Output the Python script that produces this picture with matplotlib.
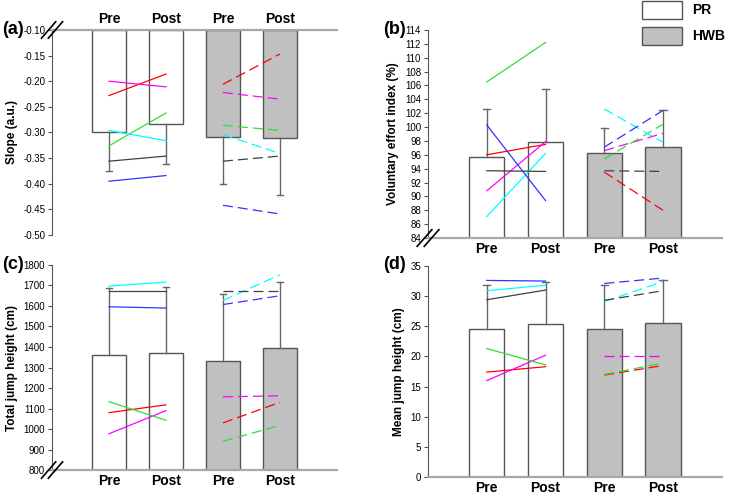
import matplotlib
matplotlib.use("Agg")
import matplotlib.pyplot as plt
from matplotlib.patches import Rectangle
import numpy as np

plt.rcParams['font.family'] = ['Liberation Sans', 'DejaVu Sans']

categories = ['Pre', 'Post', 'Pre', 'Post']
line_colors = ['red', 'magenta', '#33dd33', 'cyan', '#3333ff', '#404040']

# (a) slope
slope_mean = [-0.300, -0.284, -0.308, -0.310]
slope_err = [0.075, 0.078, 0.093, 0.111]
slope_pr = {'red': (-0.228, -0.186), 'magenta': (-0.200, -0.211), '#33dd33': (-0.326, -0.262),
            'cyan': (-0.296, -0.316), '#3333ff': (-0.395, -0.384), '#404040': (-0.356, -0.346)}
slope_hwb = {'red': (-0.206, -0.147), 'magenta': (-0.222, -0.235), '#33dd33': (-0.286, -0.296),
             'cyan': (-0.304, -0.341), '#3333ff': (-0.442, -0.459), '#404040': (-0.356, -0.346)}

# (b) voluntary effort index
vei_mean = [95.7, 97.8, 96.2, 97.1]
vei_err = [6.9, 7.7, 3.7, 5.3]
vei_pr = {'red': (96.0, 97.5), 'magenta': (90.8, 97.9), '#33dd33': (106.5, 112.2),
          'cyan': (87.1, 96.2), '#3333ff': (100.3, 89.4), '#404040': (93.7, 93.6)}
vei_hwb = {'red': (93.5, 88.0), 'magenta': (96.6, 99.1), '#33dd33': (95.4, 100.4),
           'cyan': (102.6, 97.8), '#3333ff': (97.1, 102.4), '#404040': (93.7, 93.6)}

# (c) total jump height
tjh_mean = [1360, 1372, 1333, 1396]
tjh_err = [330, 320, 325, 321]
tjh_pr = {'red': (1080, 1118), 'magenta': (977, 1090), '#33dd33': (1133, 1043),
          'cyan': (1697, 1717), '#3333ff': (1596, 1590), '#404040': (1672, 1672)}
tjh_hwb = {'red': (1030, 1130), 'magenta': (1157, 1162), '#33dd33': (940, 1018),
           'cyan': (1627, 1752), '#3333ff': (1607, 1650), '#404040': (1672, 1672)}

# (d) mean jump height
mjh_mean = [24.6, 25.4, 24.5, 25.6]
mjh_err = [7.2, 7.0, 7.4, 7.1]
mjh_pr = {'red': (17.4, 18.3), 'magenta': (16.0, 20.2), '#33dd33': (21.3, 18.6),
          'cyan': (30.9, 31.8), '#3333ff': (32.6, 32.5), '#404040': (29.4, 31.0)}
mjh_hwb = {'red': (16.9, 18.5), 'magenta': (20.0, 20.0), '#33dd33': (17.0, 18.9),
           'cyan': (29.1, 32.4), '#3333ff': (32.1, 33.0), '#404040': (29.3, 30.9)}

x = np.array([1, 2, 3, 4])
bar_fill = ['white', 'white', '#c0c0c0', '#c0c0c0']
EDGE = '#555555'
AXGRAY = '#a8a8a8'


def draw_break(ax, ypos):
    # two slanted strokes across the y axis
    for dx in (-0.012, 0.012):
        ax.plot([dx - 0.025, dx + 0.025], [ypos - 0.04, ypos + 0.04], transform=ax.transAxes,
                color='black', lw=1.2, clip_on=False, zorder=6)


def panel(ax, mean, err, pr, hwb, base, ylim, yticks, fmt, ylabel, top=False):
    heights = [m - base for m in mean]
    ax.bar(x, heights, bottom=base, width=0.6, color=bar_fill, edgecolor=EDGE, lw=1, zorder=2)
    for xi, m, e in zip(x, mean, err):
        end = m - e if top else m + e
        ax.plot([xi, xi], [m, end], color='#666666', lw=1, zorder=3)
        ax.plot([xi - 0.06, xi + 0.06], [end, end], color='#666666', lw=1, zorder=3)
    for c in line_colors:
        ax.plot([1, 2], pr[c], color=c, lw=0.9, zorder=4)
        ax.plot([3, 4], hwb[c], color=c, lw=0.9, dashes=(8, 4), zorder=4)
    ax.set_xlim(0, 5)
    ax.set_ylim(*ylim)
    ax.set_yticks(yticks)
    ax.set_yticklabels([fmt % v for v in yticks], fontsize=7)
    ax.set_xticks(x)
    ax.set_xticklabels(categories, fontsize=10, fontweight='bold')
    ax.tick_params(axis='x', length=0, pad=3)
    ax.tick_params(axis='y', length=3, width=0.8, color='#555555', pad=2)
    ax.set_ylabel(ylabel, fontsize=8.5, fontweight='bold')
    ax.spines['right'].set_visible(False)
    ax.spines['left'].set_color('#555555')
    ax.spines['left'].set_linewidth(0.8)
    if top:
        ax.spines['bottom'].set_visible(False)
        ax.spines['top'].set_color(AXGRAY)
        ax.spines['top'].set_linewidth(1.6)
        ax.xaxis.tick_top()
    else:
        ax.spines['top'].set_visible(False)
        ax.spines['bottom'].set_color(AXGRAY)
        ax.spines['bottom'].set_linewidth(1.6)


fig = plt.figure(figsize=(7.38, 4.99), dpi=100)
ax_a = fig.add_axes([0.0705, 0.529, 0.386, 0.411])
ax_b = fig.add_axes([0.580, 0.523, 0.398, 0.417])
ax_c = fig.add_axes([0.0705, 0.058, 0.386, 0.411])
ax_d = fig.add_axes([0.580, 0.044, 0.398, 0.423])

panel(ax_a, slope_mean, slope_err, slope_pr, slope_hwb, -0.10, (-0.50, -0.10),
      np.round(np.arange(-0.10, -0.501, -0.05), 2), '%.2f', 'Slope (a.u.)', top=True)
panel(ax_b, vei_mean, vei_err, vei_pr, vei_hwb, 84, (84, 114),
      np.arange(84, 115, 2), '%d', 'Voluntary effort index (%)')
panel(ax_c, tjh_mean, tjh_err, tjh_pr, tjh_hwb, 800, (800, 1800),
      np.arange(800, 1801, 100), '%d', 'Total jump height (cm)')
panel(ax_d, mjh_mean, mjh_err, mjh_pr, mjh_hwb, 0, (0, 35),
      np.arange(0, 36, 5), '%d', 'Mean jump height (cm)')

draw_break(ax_a, 1.0)
draw_break(ax_b, 0.0)
draw_break(ax_c, 0.0)

for label, xx, yy in [('(a)', 0.003, 0.940), ('(b)', 0.519, 0.940),
                      ('(c)', 0.003, 0.469), ('(d)', 0.519, 0.469)]:
    fig.text(xx, yy, label, fontsize=13, fontweight='bold', va='center', ha='left')

# legend boxes
for lab, yb in [('PR', 0.962), ('HWB', 0.910)]:
    fc = 'white' if lab == 'PR' else '#c0c0c0'
    fig.add_artist(Rectangle((0.870, yb), 0.054, 0.036, transform=fig.transFigure,
                             facecolor=fc, edgecolor=EDGE, lw=1))
    fig.text(0.938, yb + 0.018, lab, fontsize=10, fontweight='bold', va='center', ha='left')

fig.savefig('out.png', dpi=100)
